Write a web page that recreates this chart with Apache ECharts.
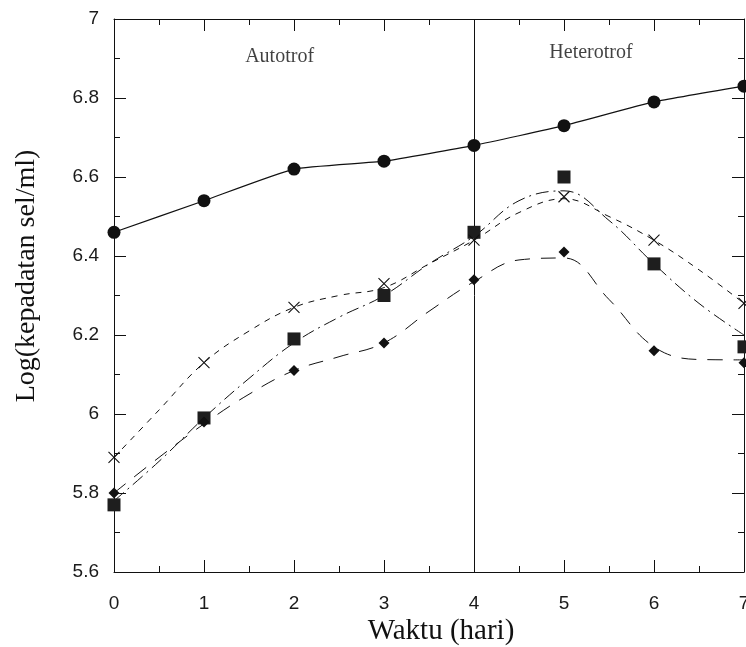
<!DOCTYPE html>
<html>
<head>
<meta charset="utf-8">
<style>
  html, body { margin: 0; padding: 0; background: #ffffff; }
  #chart { width: 746px; height: 647px; }
</style>
<script src="https://cdn.jsdelivr.net/npm/echarts@6/dist/echarts.min.js"></script>
</head>
<body>
<div id="chart"></div>
<script>
// Sampling days and measured densities (log cells/ml) for four cultures
const days = [0, 1, 2, 3, 4, 5, 6, 7];
const circleVals  = [6.46, 6.54, 6.62, 6.64, 6.68, 6.73, 6.79, 6.83];
const squareVals  = [5.77, 5.99, 6.19, 6.30, 6.46, 6.60, 6.38, 6.17];
const crossVals   = [5.89, 6.13, 6.27, 6.33, 6.44, 6.55, 6.44, 6.28];
const diamondVals = [5.80, 5.98, 6.11, 6.18, 6.34, 6.41, 6.16, 6.13];

// Fitted trend curves, sampled every half day
const fitDays    = [0, 0.5, 1, 1.5, 2, 2.5, 3, 3.5, 4, 4.5, 5, 5.5, 6, 6.5, 7];
const squareFit  = [5.78, 5.88, 5.99, 6.09, 6.18, 6.245, 6.30, 6.38, 6.45, 6.54, 6.565, 6.49, 6.38, 6.28, 6.20];
const crossFit   = [5.89, 6.01, 6.13, 6.21, 6.27, 6.30, 6.32, 6.38, 6.44, 6.51, 6.545, 6.50, 6.44, 6.365, 6.28];
const diamondFit = [5.80, 5.89, 5.975, 6.05, 6.11, 6.145, 6.18, 6.26, 6.335, 6.39, 6.395, 6.29, 6.17, 6.138, 6.137];

// Day at which the culture switches from autotrophic to heterotrophic
const phaseSwitchDay = 4;
const phaseNames = ['Autotrof', 'Heterotrof'];

// Axis settings
const xMin = 0, xMax = 7, xStep = 1;
const yMin = 5.6, yMax = 7, yStep = 0.2;
const xTitle = 'Waktu (hari)';
const yTitle = 'Log(kepadatan sel/ml)';

const ink = '#111111';
const pair = (xs, ys) => xs.map((x, i) => [x, ys[i]]);

const chart = echarts.init(document.getElementById('chart'), null, { renderer: 'canvas' });

// Frame axes: ticks point into the plot, minor ticks halfway between majors
function frameAxis(extra) {
  return Object.assign({
    type: 'value',
    axisLine: { show: true, onZero: false, lineStyle: { color: ink, width: 1 } },
    axisTick: { show: true, inside: true, length: 12, lineStyle: { color: ink, width: 1 } },
    minorTick: { show: true, splitNumber: 2, length: 6, lineStyle: { color: ink, width: 1 } },
    splitLine: { show: false },
    minorSplitLine: { show: false }
  }, extra);
}

const labelFont = { fontFamily: 'Liberation Sans, Arial, sans-serif', fontSize: 19, color: '#1a1a1a' };

const option = {
  animation: false,
  backgroundColor: '#ffffff',
  grid: { left: 114, right: 2, top: 19, bottom: 75, containLabel: false, outerBoundsMode: 'none' },
  xAxis: [
    frameAxis({
      position: 'bottom', min: xMin, max: xMax, interval: xStep,
      axisLabel: Object.assign({ show: true, margin: 22, showMinLabel: true, showMaxLabel: true, hideOverlap: false }, labelFont)
    }),
    frameAxis({
      position: 'top', min: xMin, max: xMax, interval: xStep,
      axisLabel: { show: false }
    })
  ],
  yAxis: [
    frameAxis({
      position: 'left', min: yMin, max: yMax, interval: yStep,
      axisLabel: Object.assign({ show: true, margin: 15, showMinLabel: true, showMaxLabel: true, hideOverlap: false }, labelFont)
    }),
    frameAxis({
      position: 'right', min: yMin, max: yMax, interval: yStep,
      axisLabel: { show: false }
    })
  ],
  graphic: [
    {
      type: 'text', x: 441, y: 631,
      style: { text: xTitle, font: '29px "Liberation Serif", "Times New Roman", serif',
               fill: ink, textAlign: 'center', textVerticalAlign: 'middle' }
    },
    {
      type: 'text', x: 27, y: 276, rotation: Math.PI / 2,
      style: { text: yTitle, font: '28px "Liberation Serif", "Times New Roman", serif',
               fill: ink, textAlign: 'center', textVerticalAlign: 'middle' }
    }
  ],
  series: [
    // Solid trend through the circle series, plus the phase divider
    {
      name: 'circle-line', type: 'line', data: pair(days, circleVals),
      smooth: 0.15, showSymbol: false, silent: true,
      lineStyle: { color: ink, width: 1.2 },
      markLine: {
        silent: true, symbol: 'none', animation: false,
        label: { show: false },
        lineStyle: { color: ink, width: 1, type: 'solid' },
        data: [{ xAxis: phaseSwitchDay }]
      }
    },
    {
      name: 'square-fit', type: 'line', data: pair(fitDays, squareFit),
      smooth: 0.4, showSymbol: false, silent: true,
      lineStyle: { color: ink, width: 1, type: [13, 5, 2, 5] }
    },
    {
      name: 'cross-fit', type: 'line', data: pair(fitDays, crossFit),
      smooth: 0.4, showSymbol: false, silent: true,
      lineStyle: { color: ink, width: 1, type: [6, 6] }
    },
    {
      name: 'diamond-fit', type: 'line', data: pair(fitDays, diamondFit),
      smooth: 0.4, showSymbol: false, silent: true,
      lineStyle: { color: ink, width: 1, type: [15, 11] }
    },
    // Measured points
    {
      name: 'circle', type: 'scatter', data: pair(days, circleVals),
      symbol: 'circle', symbolSize: 13, z: 5,
      itemStyle: { color: ink, opacity: 1 }
    },
    {
      name: 'square', type: 'scatter', data: pair(days, squareVals),
      symbol: 'rect', symbolSize: 13, z: 5,
      itemStyle: { color: '#1e1e1e', opacity: 1 }
    },
    {
      name: 'cross', type: 'scatter', data: pair(days, crossVals),
      symbol: 'path://M0,0L10,10M10,0L0,10', symbolSize: 11, z: 5,
      itemStyle: { color: 'rgba(0,0,0,0)', borderColor: ink, borderWidth: 1.1, opacity: 1 }
    },
    {
      name: 'diamond', type: 'scatter', data: pair(days, diamondVals),
      symbol: 'diamond', symbolSize: [11, 11], z: 5,
      itemStyle: { color: ink, opacity: 1 }
    },
    // Phase captions
    {
      name: 'phase-captions', type: 'scatter', symbolSize: 0, silent: true, z: 6,
      data: [[1.84, 6.905], [5.3, 6.914]],
      label: {
        show: true, position: 'inside',
        formatter: p => phaseNames[p.dataIndex],
        fontFamily: 'Liberation Serif, Times New Roman, serif', fontSize: 20, color: ink
      }
    }
  ]
};

chart.setOption(option);
</script>
</body>
</html>
